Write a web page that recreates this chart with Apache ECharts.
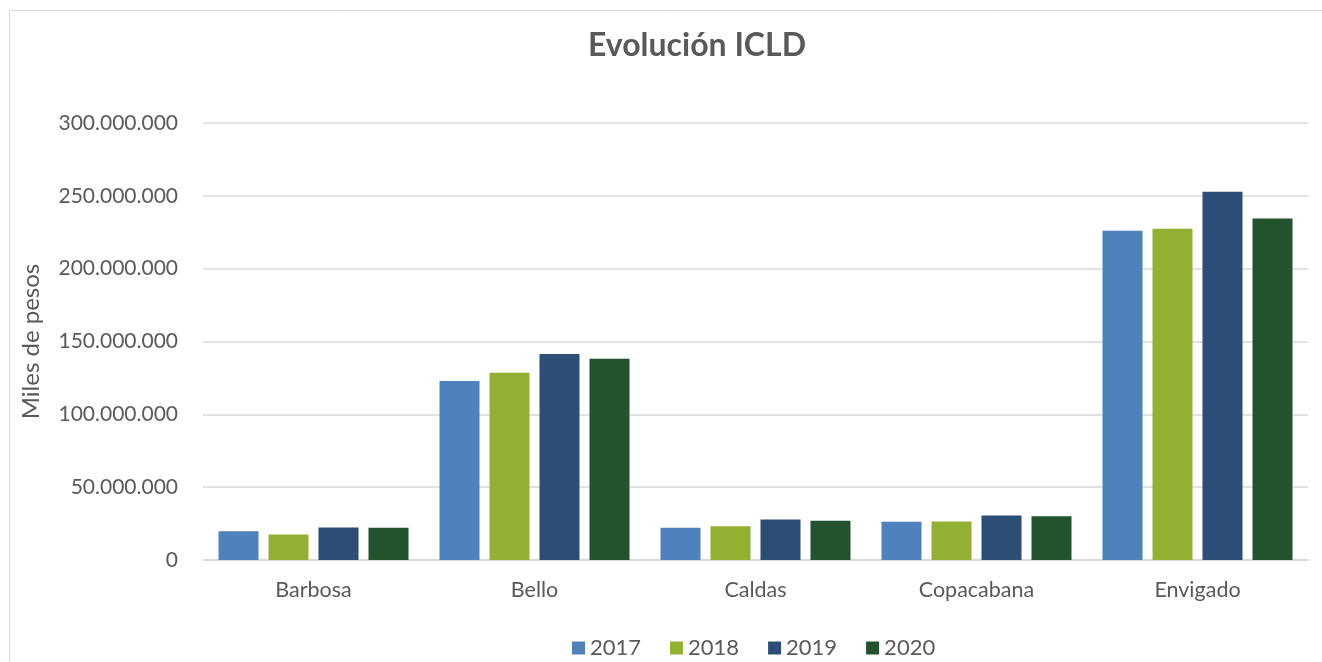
<!DOCTYPE html>
<html><head><meta charset="utf-8">
<script src="https://cdn.jsdelivr.net/npm/echarts@6/dist/echarts.min.js"></script>
<style>html,body{margin:0;padding:0;background:#fff}#c{width:1322px;height:662px}</style>
</head><body><div id="c"></div>
<script>
const categories = ['Barbosa', 'Bello', 'Caldas', 'Copacabana', 'Envigado'];
const years = ['2017', '2018', '2019', '2020'];
const v2017 = [19800000, 122900000, 22100000, 26200000, 226000000];
const v2018 = [17500000, 128600000, 23200000, 26400000, 227400000];
const v2019 = [22300000, 141400000, 27800000, 30500000, 252800000];
const v2020 = [22100000, 138200000, 26900000, 30000000, 234500000];
const colors = ['#4F81BD', '#93B032', '#2C4D75', '#22532E'];
const seriesValues = [v2017, v2018, v2019, v2020];

const FONT = 'Lato';
const fmt = v => String(v).replace(/\B(?=(\d{3})+(?!\d))/g, '.');

const chart = echarts.init(document.getElementById('c'));
chart.setOption({
  animation: false,
  textStyle: { fontFamily: FONT },
  title: {
    text: 'Evolución ICLD', left: 692, top: 25, textAlign: 'center',
    textStyle: { fontFamily: FONT, fontSize: 32, fontWeight: 'bold', color: '#595959' }
  },
  graphic: [{
    type: 'rect', shape: { x: 9.5, y: 10.5, width: 1330, height: 670 },
    style: { fill: 'none', stroke: '#d9d9d9', lineWidth: 1 }, z: -1
  }],
  legend: {
    data: years, bottom: -2, left: 567, itemWidth: 13, itemHeight: 13, itemGap: 29,
    icon: 'rect',
    textStyle: { fontFamily: FONT, fontSize: 22, color: '#595959' }
  },
  grid: { left: 203, right: 14, top: 123, bottom: 102 },
  xAxis: {
    type: 'category', data: categories,
    axisLine: { lineStyle: { color: '#d9d9d9', width: 2 } },
    axisTick: { show: false },
    axisLabel: { fontFamily: FONT, fontSize: 21.5, color: '#595959', margin: 19 }
  },
  yAxis: {
    type: 'value', min: 0, max: 300000000, interval: 50000000,
    name: 'Miles de pesos', nameLocation: 'middle', nameGap: 160, nameRotate: 90,
    nameTextStyle: { fontFamily: FONT, fontSize: 24, color: '#595959' },
    axisLine: { show: false }, axisTick: { show: false },
    splitLine: { lineStyle: { color: '#d9d9d9', width: 1.5 } },
    axisLabel: { fontFamily: FONT, fontSize: 21, color: '#595959', margin: 25, formatter: fmt }
  },
  series: years.map((y, i) => ({
    name: y, type: 'bar', data: seriesValues[i], barWidth: 40, barGap: '25%',
    itemStyle: { color: colors[i] }
  }))
});
</script></body></html>
